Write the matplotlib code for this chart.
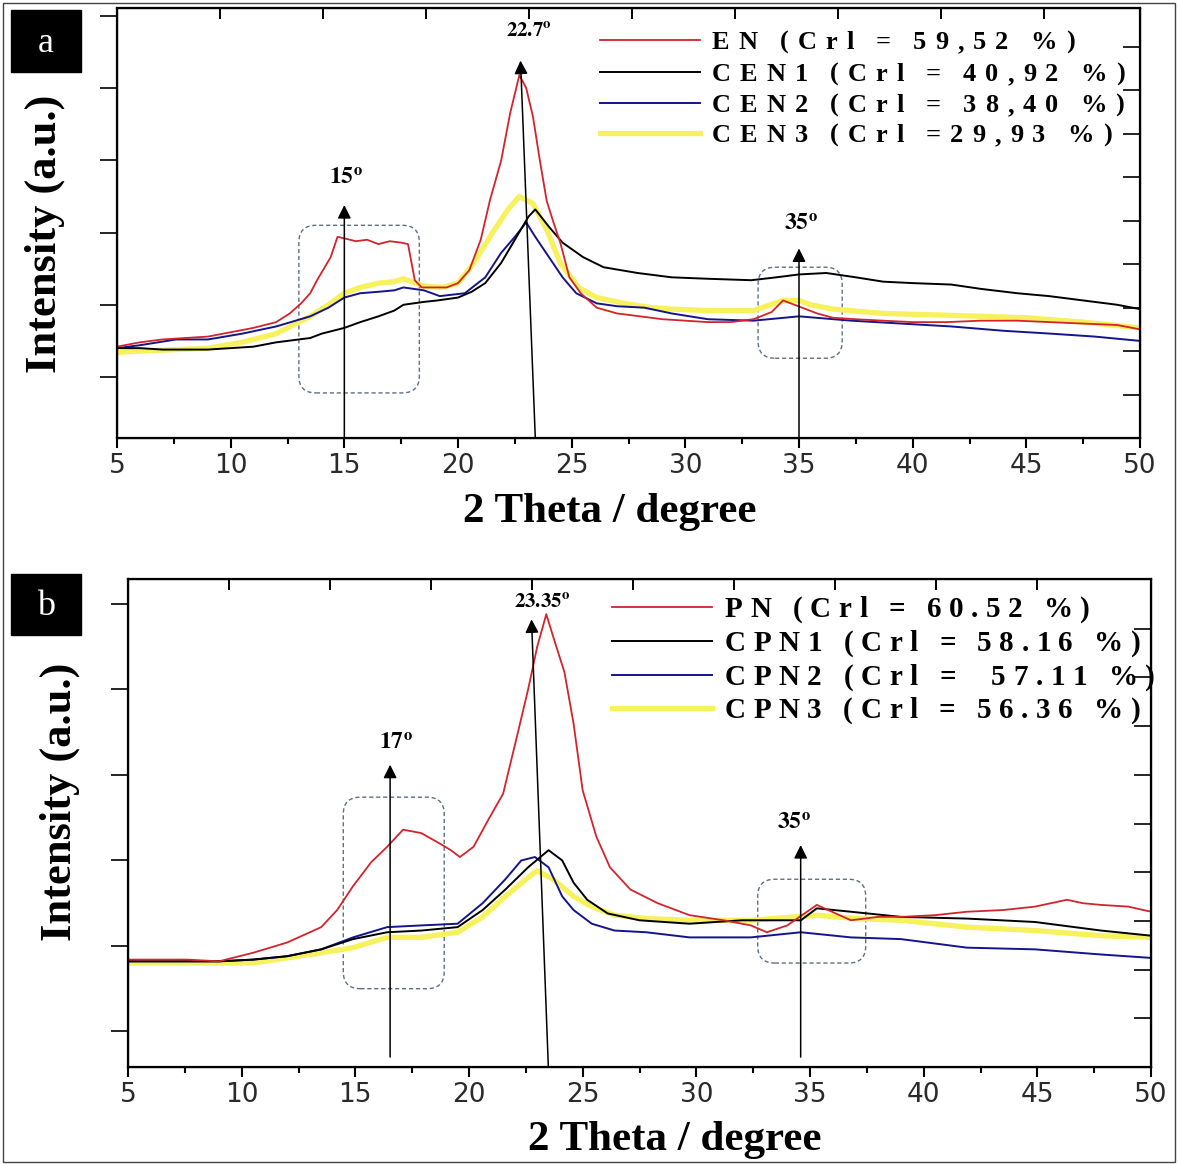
import matplotlib
matplotlib.use("Agg")
import matplotlib.pyplot as plt
from matplotlib.patches import FancyBboxPatch, Rectangle
from matplotlib.lines import Line2D

plt.rcParams["mathtext.fontset"] = "stix"

# ---- panel a : EN and CEN samples ----
en_x = [5, 6, 7, 8, 9, 10, 11, 12, 12.6, 13.1, 13.5, 13.8, 14.1, 14.4, 14.7, 15.0, 15.5, 16, 16.5, 17,
        17.5, 17.8, 18.1, 18.4, 19, 19.5, 20, 20.5, 21, 21.4, 21.9, 22.3, 22.7, 23.0, 23.3, 23.6, 23.9,
        24.2, 24.5, 24.9, 25.4, 26.1, 27, 28, 29, 30, 31, 32, 33, 33.8, 34.3, 34.8, 35.3, 35.8, 36.5,
        37.5, 38.7, 40, 41.5, 43, 44.6, 46, 47.5, 49, 50]
en_y = [1.21, 1.24, 1.26, 1.27, 1.28, 1.31, 1.34, 1.38, 1.44, 1.51, 1.58, 1.67, 1.75, 1.83, 1.97, 1.96,
        1.94, 1.95, 1.92, 1.94, 1.93, 1.92, 1.67, 1.62, 1.62, 1.62, 1.65, 1.74, 1.95, 2.22, 2.50, 2.83,
        3.09, 3.00, 2.80, 2.50, 2.22, 2.07, 1.93, 1.69, 1.58, 1.48, 1.44, 1.42, 1.40, 1.39, 1.38, 1.38,
        1.40, 1.45, 1.53, 1.50, 1.47, 1.44, 1.41, 1.40, 1.39, 1.38, 1.38, 1.39, 1.39, 1.38, 1.37, 1.36, 1.33]

cen1_x = [5, 6, 7, 8, 9, 10, 11, 12, 13, 13.5, 14, 15, 15.7, 16.5, 17.2, 17.6, 18.5, 19.1, 20, 20.6,
          21.2, 21.9, 22.5, 23.1, 23.4, 24.0, 24.6, 25.5, 26.4, 27.9, 29.4, 31, 32.9, 34, 35, 36.2,
          37.5, 38.7, 40, 41.7, 43, 44.6, 46, 47.5, 49, 50]
cen1_y = [1.20, 1.20, 1.19, 1.19, 1.19, 1.20, 1.21, 1.24, 1.26, 1.27, 1.30, 1.34, 1.38, 1.42, 1.46,
          1.50, 1.52, 1.53, 1.55, 1.59, 1.65, 1.79, 1.95, 2.11, 2.16, 2.04, 1.93, 1.83, 1.76, 1.72,
          1.69, 1.68, 1.67, 1.69, 1.71, 1.72, 1.69, 1.66, 1.65, 1.64, 1.61, 1.58, 1.56, 1.53, 1.50, 1.47]

cen2_x = [5, 6, 7.6, 9, 10.5, 12, 13.5, 14.3, 15, 15.7, 16.5, 17.2, 17.6, 18.5, 19.2, 20.3, 21.2, 21.9,
          22.5, 23.0, 23.4, 24.0, 24.6, 25.2, 26.1, 27, 28.2, 29.4, 31, 33, 35, 37.3, 39.5, 41.7, 44,
          46.1, 48, 50]
cen2_y = [1.20, 1.22, 1.26, 1.26, 1.30, 1.35, 1.42, 1.48, 1.55, 1.58, 1.59, 1.60, 1.62, 1.60, 1.56,
          1.58, 1.69, 1.86, 1.97, 2.07, 1.97, 1.83, 1.69, 1.58, 1.51, 1.49, 1.48, 1.44, 1.40, 1.39,
          1.42, 1.39, 1.37, 1.35, 1.32, 1.30, 1.28, 1.25]

cen3_x = [5, 6, 7.6, 9, 10.5, 12, 13.5, 14.3, 15, 15.7, 16.5, 17.2, 17.6, 18.5, 19.3, 20.0, 20.7, 21.4,
          22.2, 22.7, 23.3, 23.9, 24.5, 25.3, 26.1, 27.3, 28.5, 29.4, 31, 33, 34.3, 35, 35.5, 36.5,
          38.7, 41, 43.1, 45, 47.5, 50]
cen3_y = [1.17, 1.18, 1.19, 1.20, 1.24, 1.30, 1.42, 1.50, 1.58, 1.62, 1.65, 1.66, 1.68, 1.63, 1.62,
          1.65, 1.79, 1.97, 2.16, 2.25, 2.20, 2.02, 1.79, 1.62, 1.55, 1.51, 1.48, 1.47, 1.46, 1.46,
          1.53, 1.53, 1.50, 1.47, 1.44, 1.43, 1.42, 1.41, 1.38, 1.34]

# ---- panel b : PN and CPN samples ----
pn_x = [5, 6, 7.6, 9, 10.5, 12, 13.5, 14.2, 14.9, 15.7, 16.4, 17.1, 17.9, 18.7, 19.2, 19.6, 20.2,
        20.9, 21.5, 22.1, 22.6, 23.0, 23.4, 23.7, 24.2, 24.6, 25.0, 25.6, 26.2, 27.1, 28.3, 29.7, 31.2,
        32.4, 33.1, 34, 35.3, 36.8, 38, 39, 40.5, 41.9, 43.5, 44.9, 46.3, 47, 47.8, 49, 50]
pn_y = [0.92, 0.92, 0.92, 0.91, 0.96, 1.02, 1.11, 1.21, 1.35, 1.49, 1.58, 1.68, 1.66, 1.60, 1.56,
        1.52, 1.58, 1.75, 1.89, 2.22, 2.50, 2.75, 2.94, 2.81, 2.60, 2.30, 1.91, 1.64, 1.46, 1.33,
        1.25, 1.18, 1.15, 1.12, 1.08, 1.12, 1.24, 1.15, 1.17, 1.17, 1.18, 1.20, 1.21, 1.23, 1.27,
        1.25, 1.24, 1.23, 1.20]

cpn1_x = [5, 7.6, 9, 10.5, 12, 13.5, 14.9, 16.4, 17.9, 19.5, 20.6, 21.6, 22.6, 23.5, 24.1, 24.6, 25.2,
          26.1, 27.5, 29.7, 32, 34.6, 35.3, 36.8, 39, 41.9, 44.9, 47.8, 50]
cpn1_y = [0.91, 0.91, 0.91, 0.92, 0.94, 0.98, 1.04, 1.08, 1.09, 1.11, 1.21, 1.33, 1.46, 1.56, 1.50,
          1.37, 1.27, 1.19, 1.15, 1.13, 1.15, 1.15, 1.22, 1.20, 1.17, 1.16, 1.14, 1.09, 1.06]

cpn2_x = [5, 7.6, 9, 10.5, 12, 13.5, 14.9, 16.4, 17.9, 19.5, 20.6, 21.6, 22.3, 22.9, 23.5, 24.1, 24.6,
          25.4, 26.4, 27.8, 29.7, 32.4, 34.6, 36.8, 39, 41.9, 44.9, 47.8, 50]
cpn2_y = [0.91, 0.91, 0.91, 0.92, 0.94, 0.98, 1.05, 1.11, 1.12, 1.13, 1.25, 1.39, 1.50, 1.52, 1.46,
          1.29, 1.21, 1.13, 1.09, 1.08, 1.05, 1.05, 1.08, 1.05, 1.04, 0.99, 0.98, 0.95, 0.93]

cpn3_x = [5, 7.6, 10.5, 12, 13.5, 14.9, 16.4, 17.9, 19.5, 20.6, 21.6, 22.6, 23.0, 23.7, 24.6, 25.4,
          26.4, 27.8, 29.7, 32.4, 35.3, 37, 39, 41.9, 44.9, 47.8, 50]
cpn3_y = [0.90, 0.90, 0.90, 0.93, 0.96, 0.99, 1.05, 1.05, 1.08, 1.17, 1.29, 1.40, 1.44, 1.39, 1.29,
          1.23, 1.18, 1.16, 1.15, 1.15, 1.18, 1.16, 1.15, 1.11, 1.09, 1.06, 1.05]

labels_a = ["EN (Crl = 59,52 %)", "CEN1 (Crl = 40,92 %)", "CEN2 (Crl = 38,40 %)", "CEN3 (Crl =29,93 %)"]
labels_b = ["PN (Crl = 60.52 %)", "CPN1 (Crl = 58.16 %)", "CPN2 (Crl =  57.11 %)", "CPN3 (Crl = 56.36 %)"]

RED, BLACK, BLUE, YELLOW = "#d3232b", "#000000", "#14148c", "#f6f15c"
styles = [(RED, 1.3), (BLACK, 1.4), (BLUE, 1.4), (YELLOW, 3.8)]

W, H = 1178, 1164
fig = plt.figure(figsize=(W / 100, H / 100), dpi=100)
serif = "Liberation Serif"


def fx(px):
    return px / W


def fy(py):
    return 1 - py / H


def spaced(x, y, s, size, gap, space):
    # letter-spaced bold serif text, baseline at pixel row y
    r = fig.canvas.get_renderer()
    for ch in s:
        if ch == " ":
            x += space
            continue
        t = fig.text(fx(x), fy(y), ch, fontsize=size, family=serif, weight="bold",
                     ha="left", va="baseline")
        x += t.get_window_extent(r).width + gap


def style(ax, ylim, yticks, top_n, right_n):
    ax.set_xlim(5, 50)
    ax.set_ylim(*ylim)
    ax.set_xticks(range(5, 51, 5))
    ax.set_xticks([7.5 + 5 * i for i in range(9)], minor=True)
    ax.set_yticks(yticks)
    ax.set_yticklabels([])
    for s in ax.spines.values():
        s.set_linewidth(1.6)
    # extra inner ticks on top and right
    top = ax.twiny()
    top.set_xlim(0, top_n)
    top.set_xticks(range(1, 10))
    top.set_xticklabels([])
    top.tick_params(direction="in", length=8, width=1.4)
    right = ax.twinx()
    right.set_ylim(0, right_n)
    right.set_yticks(range(1, 10))
    right.set_yticklabels([])
    right.tick_params(direction="in", length=12, width=1.2)
    ax.tick_params(axis="x", which="major", direction="out", length=7, width=1.5,
                   labelsize=19, pad=4, labelcolor="#2a2a2a")
    ax.tick_params(axis="x", which="minor", direction="out", length=4, width=1.5)
    ax.tick_params(axis="y", direction="out", length=12, width=1.2)
    for lab in ax.get_xticklabels():
        lab.set_family("DejaVu Sans")


def box(ax, x0, x1, y0, y1, aspect):
    ax.add_patch(FancyBboxPatch((x0, y0), x1 - x0, y1 - y0,
                                boxstyle="round,pad=0,rounding_size=0.75",
                                mutation_aspect=aspect, fill=False,
                                edgecolor="#5f6f80", lw=1.0, ls=(0, (3, 2))))


def arrow(ax, x0, y0, x1, y1):
    ax.annotate("", xy=(x1, y1), xytext=(x0, y0),
                arrowprops=dict(arrowstyle="-|>", color="black", lw=1.1,
                                mutation_scale=20, shrinkA=0, shrinkB=0))


def peak_label(ax, x, y, num, size):
    ax.text(x, y, r"$\mathbf{%s^{o}}$" % num, ha="center", va="center", fontsize=size)


# ---------------- panel a ----------------
axa = fig.add_axes([fx(117), fy(438), (1140 - 117) / W, 430 / H])
series_a = [(en_x, en_y), (cen1_x, cen1_y), (cen2_x, cen2_y), (cen3_x, cen3_y)]
for i in [3, 2, 1, 0]:
    c, lw = styles[i]
    axa.plot(series_a[i][0], series_a[i][1], color=c, lw=lw)
style(axa, (0.578, 3.554), [1, 1.5, 2, 2.5, 3, 3.5], 1023 / 103, 430 / 43.5)

box(axa, 13.0, 18.3, 0.89, 2.05, 22.7 / 144.5)
box(axa, 33.2, 36.9, 1.13, 1.76, 22.7 / 144.5)
arrow(axa, 15, 0.578, 15, 2.19)
arrow(axa, 23.4, 0.578, 22.75, 3.19)
arrow(axa, 35, 0.578, 35, 1.89)
peak_label(axa, 15.05, 2.38, "15", 17)
peak_label(axa, 23.1, 3.40, "22.7", 15)
peak_label(axa, 35.1, 2.06, "35", 17)

for i, (lab, yy) in enumerate(zip(labels_a, [40, 72, 103, 133])):
    c, lw = styles[i]
    fig.add_artist(Line2D([fx(600), fx(700)], [fy(yy), fy(yy)], color=c, lw=lw))
    spaced(712, yy + 9, lab, 19, 9.0, 13)

fig.text(fx(610), fy(512), "2 Theta / degree", ha="center", va="center",
         fontsize=31, family=serif, weight="bold")
fig.text(fx(45), fy(234), "Intensity (a.u.)", ha="center", va="center", rotation=90,
         fontsize=32, family=serif, weight="bold")

# ---------------- panel b ----------------
axb = fig.add_axes([fx(128), fy(1067), (1151 - 128) / W, 488 / H])
series_b = [(pn_x, pn_y), (cpn1_x, cpn1_y), (cpn2_x, cpn2_y), (cpn3_x, cpn3_y)]
for i in [3, 2, 1, 0]:
    c, lw = styles[i]
    axb.plot(series_b[i][0], series_b[i][1], color=c, lw=lw)
style(axb, (0.292, 3.146), [0.5, 1, 1.5, 2, 2.5, 3], 1023 / 101, 488 / 48.7)

box(axb, 14.47, 18.91, 0.75, 1.87, 22.7 / 171)
box(axb, 32.7, 37.45, 0.90, 1.39, 22.7 / 171)
arrow(axb, 16.53, 0.35, 16.53, 2.06)
arrow(axb, 23.49, 0.292, 22.75, 2.91)
arrow(axb, 34.59, 0.35, 34.59, 1.59)
peak_label(axb, 16.8, 2.19, "17", 17)
peak_label(axb, 23.2, 3.02, "23.35", 15)
peak_label(axb, 34.28, 1.72, "35", 17)

for i, (lab, yy) in enumerate(zip(labels_b, [607, 641, 675, 708])):
    c, lw = styles[i]
    fig.add_artist(Line2D([fx(612), fx(712)], [fy(yy), fy(yy)], color=c, lw=lw))
    spaced(725, yy + 10, lab, 21, 7.5, 14)

fig.text(fx(675), fy(1140), "2 Theta / degree", ha="center", va="center",
         fontsize=31, family=serif, weight="bold")
fig.text(fx(60), fy(802), "Intensity (a.u.)", ha="center", va="center", rotation=90,
         fontsize=32, family=serif, weight="bold")

# panel tags
for tag, top, bot in [("a", 10, 72), ("b", 574, 635)]:
    fig.add_artist(Rectangle((fx(11), fy(bot)), 70 / W, (bot - top) / H,
                             transform=fig.transFigure, color="black"))
    fig.text(fx(46), fy((top + bot) / 2 + 2), tag, color="white", ha="center", va="center",
             fontsize=26, family=serif)

# outer frame
fig.add_artist(Rectangle((fx(3), fy(1162)), (W - 6) / W, (1162 - 3) / H,
                         transform=fig.transFigure, fill=False, edgecolor="#444444", lw=1.0))

fig.savefig("out.png", dpi=100)
